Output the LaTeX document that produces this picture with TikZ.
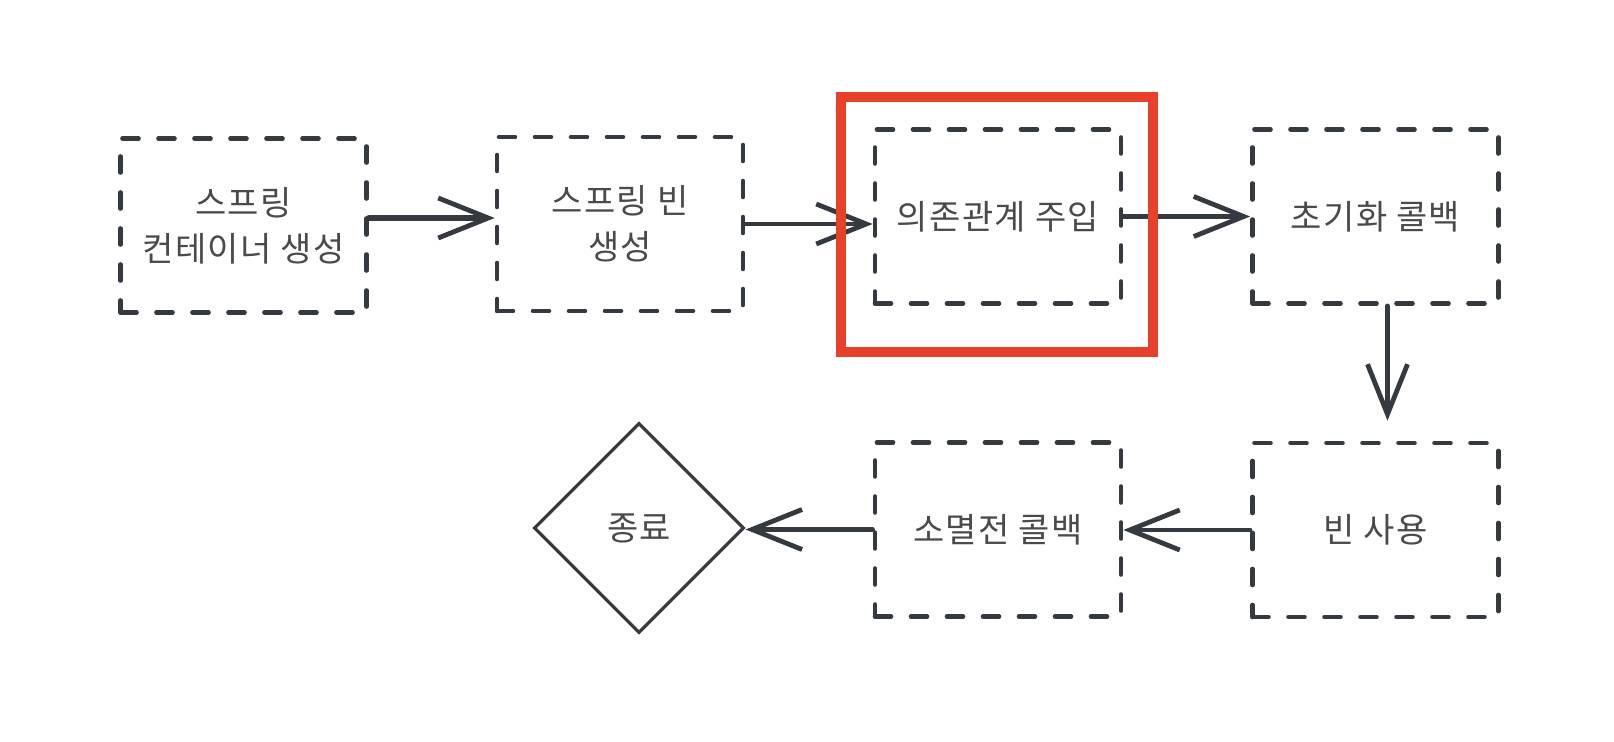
\documentclass[tikz,border=0pt]{standalone}
\usepackage{fontspec}
\setmainfont{Noto Sans CJK KR}[LetterSpace=4]
\usetikzlibrary{arrows.meta,shapes.geometric}
\definecolor{ink}{HTML}{343A40}
\definecolor{txt}{HTML}{4A4A4A}
\definecolor{hl}{HTML}{E8412A}
\begin{document}
\begin{tikzpicture}[x=0.5pt,y=-0.5pt,
  box/.style={draw=ink, line width=2.3pt, dash pattern=on 8pt off 10pt, line cap=round,
    minimum width=123pt, minimum height=87pt, inner sep=0pt, text=txt,
    font=\fontsize{17}{23}\selectfont, align=center},
  conn/.style={draw=ink, line width=2.2pt, line cap=round,
    -{Straight Barb[length=25pt,width=20pt,line width=2.4pt]}},
  endshape/.style={diamond, aspect=1, draw=ink, line width=1.6pt, minimum width=105pt,
    minimum height=105pt, inner sep=0pt, text=txt, font=\fontsize{17}{23}\selectfont},
  highlight/.style={draw=hl, line width=5pt, minimum width=156pt, minimum height=127.5pt, inner sep=0pt}
]
\useasboundingbox (0,0) rectangle (1614,742);
\node[box] (b1) at (243.5,225.5) {스프링\\컨테이너 생성};
\node[box] (b2) at (620,224) {스프링 빈\\생성};
\node[box] (b3) at (998,216.5) {의존관계 주입};
\node[box] (b4) at (1375.5,216.5) {초기화 콜백};
\node[box] (b5) at (1375.5,530) {빈 사용};
\node[box] (b6) at (998,529.5) {소멸전 콜백};
\node[endshape] (end) at (639,528) {종료};

\draw[conn, line width=2.8pt] ([yshift=3.75pt]b1.east) -- ([yshift=3.75pt]b1.east -| b2.west);
\draw[conn] (b2.east) -- (b2.east -| b3.west);
\draw[conn] (b3.east) -- (b3.east -| b4.west);
\draw[conn] ([xshift=6pt]b4.south) -- ([xshift=6pt,yshift=10pt]b5.north);
\draw[conn] (b5.west) -- (b5.west -| b6.east);
\draw[conn] (b6.west) -- (b6.west -| end.east);

\node[highlight] (hl) at (997,224.5) {};
\end{tikzpicture}
\end{document}
